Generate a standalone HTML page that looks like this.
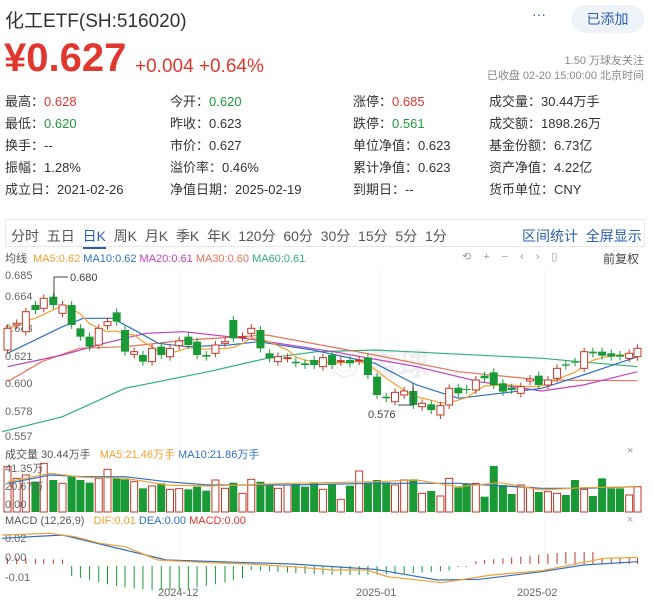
<!DOCTYPE html><html><head><meta charset="utf-8"><style>
body{margin:0;width:654px;height:609px;background:#fff;font-family:"Liberation Sans","Noto Sans CJK SC",sans-serif;position:relative;overflow:hidden;color:#333}
.a{position:absolute;white-space:nowrap}
.r{color:#e0382e}.g{color:#1e9a3c}
.st{font-size:13px}
</style></head><body>
<div class="a" style="left:5px;top:6px;font-size:19px;color:#333">化工ETF(SH:516020)</div>
<div class="a" style="left:532px;top:6px;font-size:14px;color:#2a5fb0">···</div>
<div class="a" style="left:571px;top:5px;width:73px;height:28px;border-radius:14px;background:#eef3fa;color:#2a5fb0;font-size:14px;line-height:28px;text-align:center">已添加</div>
<div class="a r" style="left:4px;top:36px;font-size:40px;font-weight:bold">¥0.627</div>
<div class="a r" style="left:135px;top:56px;font-size:19px">+0.004 +0.64%</div>
<div class="a" style="right:10px;top:52px;font-size:11px;color:#888">1.50 万球友关注</div>
<div class="a" style="right:10px;top:67px;font-size:11px;color:#888">已收盘 02-20 15:00:00 北京时间</div>
<div class="st">
<div class="a" style="left:5px;top:91px">最高：<span class="r">0.628</span></div>
<div class="a" style="left:5px;top:113px">最低：<span class="g">0.620</span></div>
<div class="a" style="left:5px;top:135px">换手：--</div>
<div class="a" style="left:5px;top:157px">振幅：1.28%</div>
<div class="a" style="left:5px;top:179px">成立日：2021-02-26</div>
<div class="a" style="left:170px;top:91px">今开：<span class="g">0.620</span></div>
<div class="a" style="left:170px;top:113px">昨收：0.623</div>
<div class="a" style="left:170px;top:135px">市价：0.627</div>
<div class="a" style="left:170px;top:157px">溢价率：0.46%</div>
<div class="a" style="left:170px;top:179px">净值日期：2025-02-19</div>
<div class="a" style="left:353px;top:91px">涨停：<span class="r">0.685</span></div>
<div class="a" style="left:353px;top:113px">跌停：<span class="g">0.561</span></div>
<div class="a" style="left:353px;top:135px">单位净值：0.623</div>
<div class="a" style="left:353px;top:157px">累计净值：0.623</div>
<div class="a" style="left:353px;top:179px">到期日：--</div>
<div class="a" style="left:489px;top:91px">成交量：30.44万手</div>
<div class="a" style="left:489px;top:113px">成交额：1898.26万</div>
<div class="a" style="left:489px;top:135px">基金份额：6.73亿</div>
<div class="a" style="left:489px;top:157px">资产净值：4.22亿</div>
<div class="a" style="left:489px;top:179px">货币单位：CNY</div>
</div>
<div class="a" style="left:5px;top:219px;width:640px;height:28px;border:1px solid #e8e8e8;box-sizing:border-box"></div>
<div class="a" style="left:11px;top:226px;font-size:14px;color:#555;word-spacing:0">
<span>分时</span>&nbsp;&nbsp;<span>五日</span>&nbsp;&nbsp;<span style="color:#2a5fb0;border-bottom:2px solid #2a5fb0;padding-bottom:3px">日K</span>&nbsp;&nbsp;<span>周K</span>&nbsp;&nbsp;<span>月K</span>&nbsp;&nbsp;<span>季K</span>&nbsp;&nbsp;<span>年K</span>&nbsp;&nbsp;<span>120分</span>&nbsp;&nbsp;<span>60分</span>&nbsp;&nbsp;<span>30分</span>&nbsp;&nbsp;<span>15分</span>&nbsp;&nbsp;<span>5分</span>&nbsp;&nbsp;<span>1分</span></div>
<div class="a" style="left:522px;top:226px;font-size:14px;color:#2a5fb0">区间统计&nbsp;&nbsp;全屏显示</div>
<div class="a" style="left:5px;top:250px;font-size:11px"><span style="color:#555">均线</span>&nbsp; <span style="color:#f0a030">MA5:0.62</span> <span style="color:#3070c0">MA10:0.62</span> <span style="color:#c040c0">MA20:0.61</span> <span style="color:#e8735a">MA30:0.60</span> <span style="color:#2eb07a">MA60:0.61</span></div>
<div class="a" style="left:462px;top:250px;font-size:11px;color:#999;letter-spacing:12px">⟲+−‹›▯</div>
<div class="a" style="left:603px;top:250px;font-size:12px;color:#444">前复权</div>
<div class="a" style="left:5px;top:446px;font-size:11px"><span style="color:#555">成交量 30.44万手</span>&nbsp;&nbsp; <span style="color:#f0a030">MA5:21.46万手</span> <span style="color:#3070c0">MA10:21.86万手</span></div>
<div class="a" style="left:5px;top:515px;font-size:11px"><span style="color:#555">MACD (12,26,9)</span>&nbsp;&nbsp; <span style="color:#f0a030">DIF:0.01</span> <span style="color:#3070c0">DEA:0.00</span> <span style="color:#e0382e">MACD:0.00</span></div>
<div class="a" style="left:627px;top:445px;font-size:11px;color:#999">×</div>
<div class="a" style="left:627px;top:514px;font-size:11px;color:#999">×</div>
<svg id="s" class="a" style="left:0;top:0" width="654" height="609"></svg>
<script>
var c=[[18,340,405,1],[40,325,330,1],[62,290,350,1],[85,270,285,0],[105,250,280,1],[128,245,270,0],[150,270,295,1],[172,270,330,0],[193,340,365,0],[215,365,395,0],[237,340,390,1],[258,320,332,1],[280,292,320,0],[300,345,410,0],[322,410,418,1],[343,420,440,0],[365,400,440,1],[387,395,420,0],[408,400,425,1],[430,378,392,1],[452,365,390,0],[473,380,420,0],[495,420,425,0],[517,390,415,1],[540,380,385,1],[560,315,370,0],[582,365,368,1],[603,340,355,1],[625,345,400,0],[647,415,430,0],[667,425,440,1],[690,428,430,1],[710,440,445,0],[732,445,450,0],[754,435,450,0],[775,428,455,1],[797,420,450,0],[818,437,440,1],[840,435,445,0],[862,435,438,1],[883,428,480,0],[905,485,540,0],[927,545,550,0],[948,532,560,1],[970,528,540,1],[992,528,570,0],[1013,565,575,1],[1035,568,585,0],[1057,572,600,1],[1078,520,570,1],[1100,518,535,0],[1120,522,525,0],[1142,495,525,1],[1163,482,490,0],[1185,472,510,0],[1207,505,530,0],[1228,518,525,0],[1250,515,535,1],[1272,492,498,1],[1293,482,510,0],[1315,495,510,1],[1337,460,490,1],[1358,448,452,0],[1380,440,442,0],[1402,410,460,1],[1423,410,415,0],[1445,410,422,0],[1467,415,425,0],[1488,420,425,0],[1510,415,430,1],[1530,400,425,1]];
var X=function(z){return z/2.4},Y=function(z){return 215+z/3};
var h='';
[[275,'0.685'],[296,'0.664'],[328,'0.643'],[356,'0.621'],[383,'0.600'],[411,'0.578'],[436,'0.557']].forEach(function(t){h+='<text x="5" y="'+(t[0]+4)+'" font-size="11" fill="#666">'+t[1]+'</text>'});
[180,380,545].forEach(function(x){h+='<line x1="'+x+'" y1="268" x2="'+x+'" y2="580" stroke="#eee" stroke-dasharray="2,2"/>'});
h+='<text x="330" y="375" font-size="30" fill="#eceef2" font-weight="bold">◎ 雪球</text>';
function pl(pts,col,fx,fy){return '<polyline fill="none" stroke="'+col+'" stroke-width="1.2" points="'+pts.map(function(p){return fx(p[0]).toFixed(1)+','+fy(p[1]).toFixed(1)}).join(' ')+'"/>'}
h+=pl([[5,650],[150,605],[300,520],[500,470],[640,430],[760,410],[900,405],[1300,430],[1530,455]],'#2eb07a',X,Y);
h+=pl([[18,500],[100,440],[190,400],[300,395],[450,375],[640,360],[900,420],[1100,470],[1300,495],[1530,497]],'#e8735a',X,Y);
h+=pl([[18,455],[150,420],[250,385],[350,355],[440,350],[600,372],[800,410],[1000,455],[1150,500],[1300,528],[1400,510],[1530,470]],'#c040c0',X,Y);
h+=pl([[18,415],[150,335],[200,310],[270,310],[330,350],[380,385],[450,395],[550,390],[620,380],[750,405],[900,445],[1000,510],[1100,550],[1200,535],[1300,520],[1400,480],[1530,425]],'#3070c0',X,Y);
var m5=[];for(var i=0;i<c.length;i++){var s=0,n=0;for(var j=Math.max(0,i-4);j<=i;j++){s+=(c[j][3]?c[j][1]:c[j][2]);n++}m5.push([c[i][0],s/n])}
h+=pl(m5,'#f0a030',X,Y);
c.forEach(function(k,i){var x=X(k[0]),y1=Y(k[1]),y2=Y(k[2]),col=k[3]?'#c0392b':'#1a9a36';
h+='<line x1="'+x+'" y1="'+(y1-4)+'" x2="'+x+'" y2="'+(y2+4)+'" stroke="'+col+'"/>';
h+=k[3]?'<rect x="'+(x-3.5)+'" y="'+y1+'" width="7" height="'+Math.max(1,y2-y1)+'" fill="#fff" stroke="'+col+'"/>':'<rect x="'+(x-4)+'" y="'+y1+'" width="8" height="'+Math.max(1,y2-y1)+'" fill="'+col+'"/>';});
h+='<polyline points="54,299 54,277 68,277" fill="none" stroke="#444"/><text x="70" y="281" font-size="11" fill="#444">0.680</text>';
h+='<polyline points="413,383 413,405 398,405" fill="none" stroke="#444"/><text x="368" y="418" font-size="11" fill="#444">0.576</text>';
var vt=[80,115,105,125,70,120,130,110,120,128,115,88,115,118,125,145,138,130,148,146,148,140,152,120,145,128,160,118,125,132,145,135,132,140,128,148,132,178,137,93,128,120,127,135,120,118,160,153,168,115,142,130,130,170,78,135,162,135,142,156,155,160,165,120,148,168,115,145,145,165,140,150,108];
c.forEach(function(k,i){var x=X(k[0]),top=440+(vt[i]||140)/3,col=k[3]?'#c0392b':'#1a9a36';
h+=k[3]?'<rect x="'+(x-3.5)+'" y="'+top+'" width="7" height="'+(512-top)+'" fill="#fff" stroke="'+col+'"/>':'<rect x="'+(x-4)+'" y="'+top+'" width="8" height="'+(512-top)+'" fill="'+col+'"/>';});
h+=pl([[20,130],[120,105],[200,110],[300,110],[400,125],[500,135],[700,135],[900,130],[1100,130],[1300,145],[1400,145],[1530,140]],'#3070c0',X,function(z){return 440+z/3});
h+=pl([[20,125],[120,100],[200,112],[300,115],[400,135],[500,138],[700,130],[900,125],[1000,120],[1100,140],[1200,128],[1300,150],[1400,143],[1530,140]],'#f0a030',X,function(z){return 440+z/3});
h+='<text x="5" y="472" font-size="11" fill="#666">41.35万</text><text x="5" y="490" font-size="11" fill="#666">20.67万</text><text x="5" y="508" font-size="11" fill="#666">0.00</text>';
h+='<text x="5" y="542" font-size="11" fill="#666">0.02</text><text x="5" y="561" font-size="11" fill="#666">0.00</text><text x="5" y="581" font-size="11" fill="#666">-0.01</text>';
var zb=564;
for(var i=0;i<c.length;i++){var x=X(c[i][0]);var v;
if(i<7)v=-6+i*0.3;else if(i<27)v=10+Math.sin((i-7)/20*Math.PI)*14;else if(i<50)v=4+Math.sin((i-27)/23*Math.PI)*5;else if(i<52)v=1;else v=-(3+Math.min(i-52,10)*0.9);
if(i>=66)v=-6;
var col=v>0?'#1a9a36':'#c0392b';var y0=v>0?zb+2:zb;h+='<line x1="'+x+'" y1="'+y0+'" x2="'+x+'" y2="'+(y0+v)+'" stroke="'+col+'"/>';}
var MY=function(z){return 440+z/3};
h+=pl([[5,295],[150,285],[200,300],[300,330],[400,360],[600,368],[700,372],[900,388],[1050,420],[1150,418],[1300,395],[1400,375],[1530,365]],'#3070c0',X,MY);
h+=pl([[5,285],[120,280],[180,290],[240,310],[300,320],[380,360],[500,368],[600,372],[700,380],[800,390],[880,390],[930,410],[1060,428],[1180,405],[1300,392],[1450,355],[1530,352]],'#f0a030',X,MY);
h+='<text x="158" y="596" font-size="11" fill="#666">2024-12</text><text x="356" y="596" font-size="11" fill="#666">2025-01</text><text x="517" y="596" font-size="11" fill="#666">2025-02</text>';
document.getElementById('s').innerHTML=h;
</script>
</body></html>
